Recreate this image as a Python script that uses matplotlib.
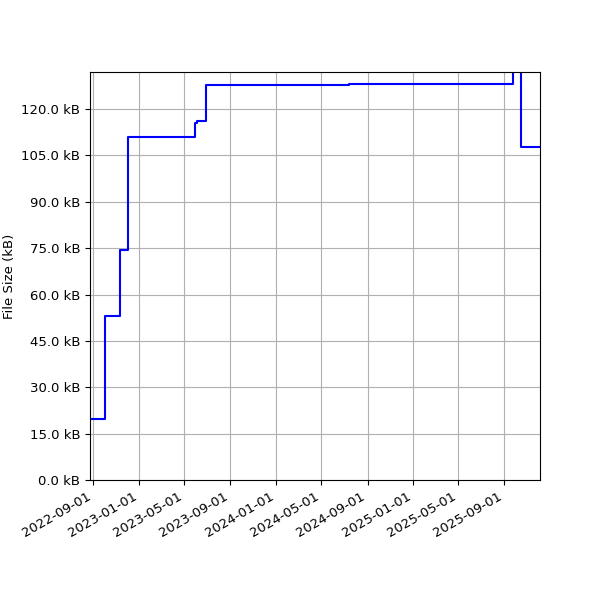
import matplotlib
matplotlib.use("Agg")
import matplotlib.pyplot as plt
import matplotlib.dates as mdates
from matplotlib.ticker import MultipleLocator, FuncFormatter
import numpy as np
from datetime import datetime

plt.rcParams["font.size"] = 9.5

dates = ["2022-08-23", "2022-10-01", "2022-11-11", "2022-12-01", "2023-05-31",
         "2023-06-04", "2023-06-28", "2024-07-14", "2025-09-25", "2025-10-14",
         "2025-12-05"]
sizes_bytes = [19600, 53100, 74400, 110900, 115500, 116100, 127800, 128200,
               150000, 107600, 107600]

x = [datetime.strptime(d, "%Y-%m-%d") for d in dates]

fig, ax = plt.subplots(figsize=(6, 6), dpi=100)
ax.plot(x, sizes_bytes, color="blue", drawstyle="steps-post", linewidth=1.5)
ax.set_xlim(x[0], x[-1])
ax.set_ylim(0, 132000)
ax.yaxis.set_major_locator(MultipleLocator(15000))
ax.yaxis.set_major_formatter(FuncFormatter(lambda v, p: f"{v/1000:.1f} kB"))
ax.xaxis.set_major_locator(mdates.MonthLocator(bymonth=(1, 5, 9)))
ax.xaxis.set_major_formatter(mdates.DateFormatter("%Y-%m-%d"))
ax.set_ylabel("File Size (kB)")
ax.grid(True)
fig.autofmt_xdate()
fig.subplots_adjust(left=0.15, right=0.9, top=0.88, bottom=0.2)
fig.savefig("out.png", dpi=100)
